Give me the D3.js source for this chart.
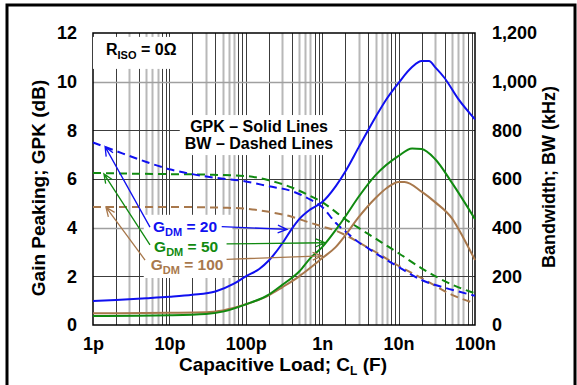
<!DOCTYPE html>
<html>
<head>
<meta charset="utf-8">
<script src="https://cdn.jsdelivr.net/npm/d3@7"></script>
<style>
  body { margin: 0; background: #fff; }
  text { font-family: Arial, "Liberation Sans", sans-serif; font-weight: bold; fill: #000; }
</style>
</head>
<body>
<div id="chart"></div>
<script>
// tick labels
var xTickValues = [1e-12, 1e-11, 1e-10, 1e-9, 1e-8, 1e-7];
var xTickLabels = ["1p", "10p", "100p", "1n", "10n", "100n"];
var gpkTicks = [0, 2, 4, 6, 8, 10, 12];
var bwTicks = [0, 200, 400, 600, 800, 1000, 1200];

// GPK (dB) - solid lines, [capacitance F, dB]
var gpk20 = [[1e-12,0.99],[2e-12,1.03],[5e-12,1.10],[1e-11,1.16],[2e-11,1.24],[4e-11,1.38],[7e-11,1.70],
  [1e-10,2.0],[1.5e-10,2.3],[2e-10,2.65],[3e-10,3.35],[4e-10,3.95],[5e-10,4.35],[7e-10,4.75],[1e-9,5.05],
  [1.5e-9,5.7],[2e-9,6.3],[3e-9,7.3],[5e-9,8.55],[7e-9,9.3],[1e-8,9.95],[1.5e-8,10.6],[2e-8,10.85],
  [2.5e-8,10.85],[3e-8,10.6],[4e-8,10.15],[6e-8,9.3],[1e-7,8.45]];
var gpk50 = [[1e-12,0.37],[1e-11,0.40],[3e-11,0.45],[5e-11,0.55],[1e-10,0.85],[2e-10,1.25],[3e-10,1.65],
  [5e-10,2.2],[7e-10,2.75],[1e-9,3.2],[1.5e-9,3.9],[2e-9,4.45],[3e-9,5.27],[5e-9,6.16],[1e-8,6.95],
  [1.5e-8,7.25],[2e-8,7.23],[3e-8,6.82],[5e-8,5.84],[1e-7,4.35]];
var gpk100 = [[1e-12,0.48],[1e-11,0.50],[3e-11,0.52],[5e-11,0.6],[1e-10,0.85],[2e-10,1.22],[3e-10,1.55],
  [5e-10,2.0],[7e-10,2.35],[1e-9,2.75],[1.5e-9,3.2],[2e-9,3.68],[3e-9,4.43],[5e-9,5.22],[7e-9,5.63],
  [1e-8,5.88],[1.2e-8,5.88],[2e-8,5.48],[3e-8,5.05],[5e-8,4.38],[7e-8,3.6],[1e-7,2.67]];

// BW (kHz) - dashed lines
var bw20 = [[1e-12,750],[2e-12,715],[5e-12,670],[1e-11,640],[2e-11,620],[4e-11,605],[1e-10,590],
  [2e-10,570],[4e-10,550],[7e-10,515],[1e-9,485],[1.5e-9,420],[2e-9,385],[3e-9,340],[4e-9,315],
  [5e-9,295],[1e-8,238],[2e-8,185],[5e-8,145],[1e-7,120]];
var bw50 = [[1e-12,625],[3e-12,622],[1e-11,620],[3e-11,618],[1e-10,612],[2e-10,595],[4e-10,565],
  [7e-10,530],[1e-9,505],[1.5e-9,465],[2e-9,435],[3e-9,399],[5e-9,355],[1e-8,295],[2e-8,233],
  [5e-8,166],[1e-7,130]];
var bw100 = [[1e-12,485],[1e-11,485],[5e-11,482],[1e-10,478],[2e-10,465],[4e-10,445],[7e-10,420],
  [1e-9,405],[1.5e-9,388],[2e-9,370],[3e-9,340],[5e-9,300],[1e-8,243],[2e-8,193],[5e-8,124],[1e-7,89]];

function init() {
  var w = 577, h = 385;
  var pLeft = 93, pTop = 33, pRight = 475, pBottom = 325;

  var svg = d3.select("#chart").append("svg")
    .attr("width", w)
    .attr("height", h);

  var xScale = d3.scaleLog().domain([1e-12, 1e-7]).range([pLeft, pRight]);
  var yScale = d3.scaleLinear().domain([0, 12]).range([pBottom, pTop]);
  var y2Scale = d3.scaleLinear().domain([0, 1200]).range([pBottom, pTop]);

  // outer frame
  svg.append("rect")
    .attr("x", 7).attr("y", 5)
    .attr("width", 568).attr("height", 400)
    .attr("fill", "none").attr("stroke", "#000").attr("stroke-width", 3);

  // vertical grid
  var darkMults = [1, 2, 4, 8, 9];
  var gridX = [];
  for (var e = -12; e < -7; e++) {
    for (var m = 1; m <= 9; m++) gridX.push({ v: m * Math.pow(10, e), dark: darkMults.indexOf(m) >= 0 });
  }
  svg.append("g").selectAll("line")
    .data(gridX.filter(function(d) { return d.v > 1.01e-12; }))
    .enter().append("line")
    .attr("x1", function(d) { return Math.round(xScale(d.v)) + 0.5; })
    .attr("x2", function(d) { return Math.round(xScale(d.v)) + 0.5; })
    .attr("y1", pTop).attr("y2", pBottom)
    .attr("stroke", function(d) { return d.dark ? "#3c3c3c" : "#b8b8b8"; })
    .attr("stroke-width", function(d) { return d.dark ? 1 : 2; });

  // horizontal grid
  svg.append("g").selectAll("line")
    .data(gpkTicks.slice(1, -1))
    .enter().append("line")
    .attr("x1", pLeft).attr("x2", pRight)
    .attr("y1", function(d) { return Math.round(yScale(d)) + 0.5; })
    .attr("y2", function(d) { return Math.round(yScale(d)) + 0.5; })
    .attr("stroke", function(d) { return (d == 4 || d == 10) ? "#a0a0a0" : "#3c3c3c"; })
    .attr("stroke-width", function(d) { return (d == 4 || d == 10) ? 1.5 : 1; });

  // plot frame
  svg.append("rect")
    .attr("x", pLeft).attr("y", pTop)
    .attr("width", pRight - pLeft).attr("height", pBottom - pTop)
    .attr("fill", "none").attr("stroke", "#000").attr("stroke-width", 1.5);

  // axes
  var xAxis = d3.axisBottom(xScale).tickValues(xTickValues)
    .tickFormat(function(d, i) { return xTickLabels[i]; })
    .tickSize(0).tickPadding(12);
  var yAxis = d3.axisLeft(yScale).tickValues(gpkTicks).tickSize(0).tickPadding(16);
  var y2Axis = d3.axisRight(y2Scale).tickValues(bwTicks).tickFormat(d3.format(",")).tickSize(0).tickPadding(17);

  svg.append("g").attr("transform", "translate(0," + pBottom + ")").call(xAxis);
  svg.append("g").attr("transform", "translate(" + pLeft + ",0)").call(yAxis);
  svg.append("g").attr("transform", "translate(" + pRight + ",0)").call(y2Axis);
  svg.selectAll(".domain").remove();
  svg.selectAll(".tick text")
    .attr("font-size", 18)
    .attr("font-family", "Arial, 'Liberation Sans', sans-serif")
    .attr("font-weight", "bold")
    .attr("fill", "#000");

  // axis titles
  svg.append("text")
    .attr("transform", "translate(45,188) rotate(-90)")
    .attr("text-anchor", "middle").attr("font-size", 19)
    .text("Gain Peaking; GPK (dB)");
  svg.append("text")
    .attr("transform", "translate(555,177) rotate(-90)")
    .attr("text-anchor", "middle").attr("font-size", 18)
    .text("Bandwidth; BW (kHz)");
  var xt = svg.append("text")
    .attr("x", 283).attr("y", 371)
    .attr("text-anchor", "middle").attr("font-size", 19);
  xt.append("tspan").text("Capacitive Load; C");
  xt.append("tspan").attr("font-size", 12).attr("dy", 4).text("L");
  xt.append("tspan").attr("dy", -4).text(" (F)");

  // curves
  var gpkLine = d3.line()
    .x(function(d) { return xScale(d[0]); })
    .y(function(d) { return yScale(d[1]); })
    .curve(d3.curveMonotoneX);
  var bwLine = d3.line()
    .x(function(d) { return xScale(d[0]); })
    .y(function(d) { return y2Scale(d[1]); })
    .curve(d3.curveMonotoneX);

  var blue = "#1010f0", green = "#108a10", brown = "#a8784c";

  var curves = svg.append("g");
  curves.append("path").datum(bw100).attr("d", bwLine)
    .attr("fill", "none").attr("stroke", brown).attr("stroke-width", 2).attr("stroke-dasharray", "8,5");
  curves.append("path").datum(bw50).attr("d", bwLine)
    .attr("fill", "none").attr("stroke", green).attr("stroke-width", 2).attr("stroke-dasharray", "8,5");
  curves.append("path").datum(bw20).attr("d", bwLine)
    .attr("fill", "none").attr("stroke", blue).attr("stroke-width", 2).attr("stroke-dasharray", "8,5");
  curves.append("path").datum(gpk100).attr("d", gpkLine)
    .attr("fill", "none").attr("stroke", brown).attr("stroke-width", 2);
  curves.append("path").datum(gpk50).attr("d", gpkLine)
    .attr("fill", "none").attr("stroke", green).attr("stroke-width", 2);
  curves.append("path").datum(gpk20).attr("d", gpkLine)
    .attr("fill", "none").attr("stroke", blue).attr("stroke-width", 2);

  // annotations
  function boxed(g, padL, padT, padR, padB) {
    var b = g.node().getBBox();
    g.insert("rect", ":first-child")
      .attr("x", b.x - padL).attr("y", b.y - padT)
      .attr("width", b.width + padL + padR).attr("height", b.height + padT + padB)
      .attr("fill", "#fff");
  }

  // R_ISO
  var rg = svg.append("g");
  var rt = rg.append("text")
    .attr("x", xScale(1.48e-12)).attr("y", yScale(11.1)).attr("font-size", 16);
  rt.append("tspan").text("R");
  rt.append("tspan").attr("font-size", 11).attr("dy", 4).text("ISO");
  rt.append("tspan").attr("dy", -4).text(" = 0\u03A9");
  boxed(rg, 13, 4, 12, 8);

  // GPK / BW note
  var ng = svg.append("g");
  ng.append("text").attr("x", xScale(1.49e-10)).attr("y", yScale(7.93))
    .attr("text-anchor", "middle").attr("font-size", 16).text("GPK \u2013 Solid Lines");
  ng.append("text").attr("x", xScale(1.49e-10)).attr("y", yScale(7.23))
    .attr("text-anchor", "middle").attr("font-size", 16).text("BW \u2013 Dashed Lines");
  boxed(ng, 5, 3, 6, 3);

  // G_DM labels
  var labels = [
    { gdm: "20", color: blue, at: [6.1e-12, 3.83] },
    { gdm: "50", color: green, at: [6.3e-12, 3.01] },
    { gdm: "100", color: brown, at: [5.7e-12, 2.26] }
  ];
  var lg = svg.append("g");
  labels.forEach(function(l) {
    var t = lg.append("text")
      .attr("x", xScale(l.at[0])).attr("y", yScale(l.at[1]))
      .attr("font-size", 15.5).style("fill", l.color);
    t.append("tspan").text("G");
    t.append("tspan").attr("font-size", 11).attr("dy", 4).text("DM");
    t.append("tspan").attr("dy", -4).text(" = " + l.gdm);
  });
  boxed(lg, 7, 3, 9, 2);

  // arrows, [from, to] in (F, dB)
  var arrows = [
    { color: blue, from: [5.57e-12, 4.02], to: [1.44e-12, 7.33] },
    { color: green, from: [5.57e-12, 3.29], to: [1.39e-12, 6.21] },
    { color: brown, from: [4.8e-12, 2.67], to: [1.48e-12, 4.84] },
    { color: blue, from: [4.84e-11, 4.04], to: [3.46e-10, 3.93] },
    { color: green, from: [5.6e-11, 3.33], to: [1.09e-9, 3.38] },
    { color: brown, from: [5.6e-11, 2.70], to: [0.99e-9, 2.84] }
  ];
  var ag = svg.append("g");
  arrows.forEach(function(a) {
    var x1 = xScale(a.from[0]), y1 = yScale(a.from[1]);
    var x2 = xScale(a.to[0]), y2 = yScale(a.to[1]);
    var ang = Math.atan2(y2 - y1, x2 - x1);
    var len = 10, spread = 0.4;
    var p = d3.path();
    p.moveTo(x1, y1); p.lineTo(x2, y2);
    p.moveTo(x2 - len * Math.cos(ang - spread), y2 - len * Math.sin(ang - spread));
    p.lineTo(x2, y2);
    p.lineTo(x2 - len * Math.cos(ang + spread), y2 - len * Math.sin(ang + spread));
    ag.append("path").attr("d", p.toString())
      .attr("fill", "none").attr("stroke", a.color).attr("stroke-width", 1.3);
  });
}

window.onload = init;
</script>
</body>
</html>
